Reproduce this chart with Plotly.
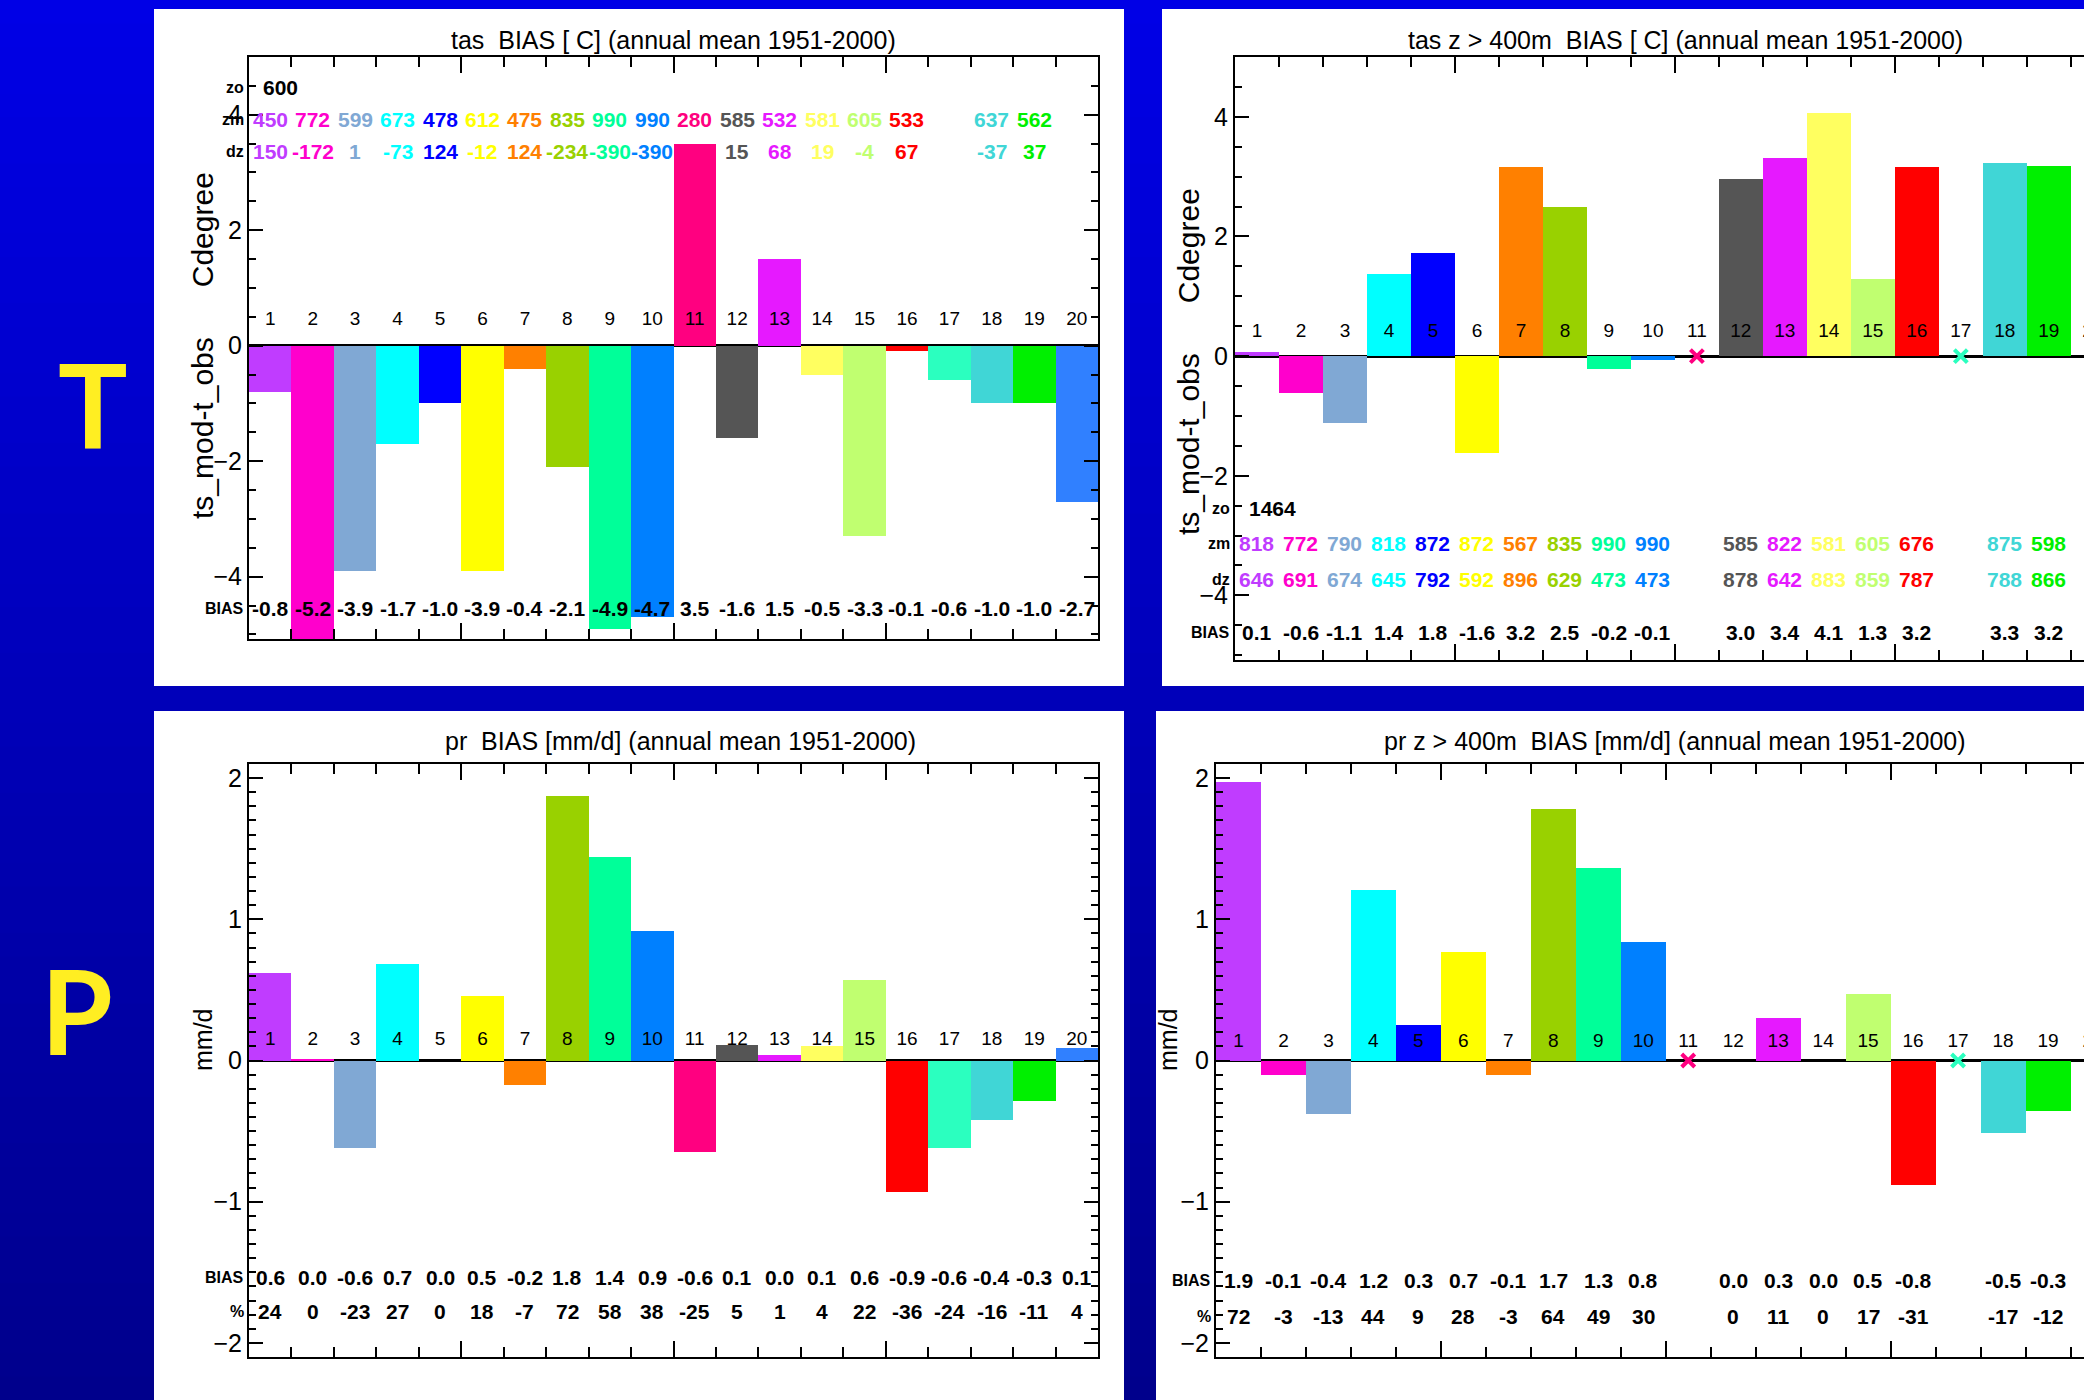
import plotly.graph_objects as go

W, H = 2084, 1400

# ---------------- data ----------------
models = list(range(1, 21))
model_colors = ["#c03cff", "#ff00cc", "#80a8d4", "#00ffff", "#0000ff",
                "#ffff00", "#ff8000", "#99d100", "#00ff99", "#0080ff",
                "#ff0080", "#555555", "#e619ff", "#ffff60", "#c0ff70",
                "#ff0000", "#2bffbf", "#40d6d6", "#00f000", "#3080ff"]

# tas bias (all grid points)
tas_bias = [-0.8, -5.2, -3.9, -1.7, -1.0, -3.9, -0.4, -2.1, -4.9, -4.7,
            3.5, -1.6, 1.5, -0.5, -3.3, -0.1, -0.6, -1.0, -1.0, -2.7]
tas_bias_lab = ["-0.8", "-5.2", "-3.9", "-1.7", "-1.0", "-3.9", "-0.4", "-2.1", "-4.9", "-4.7",
                "3.5", "-1.6", "1.5", "-0.5", "-3.3", "-0.1", "-0.6", "-1.0", "-1.0", "-2.7"]
tas_zo = 600
tas_zm = [450, 772, 599, 673, 478, 612, 475, 835, 990, 990,
          280, 585, 532, 581, 605, 533, None, 637, 562, None]
tas_dz = [150, -172, 1, -73, 124, -12, 124, -234, -390, -390,
          320, 15, 68, 19, -4, 67, None, -37, 37, None]

# tas bias z > 400m
tas4_bias = [0.07, -0.62, -1.11, 1.38, 1.73, -1.62, 3.16, 2.49, -0.22, -0.07,
             None, 2.96, 3.31, 4.07, 1.29, 3.16, None, 3.22, 3.18, None]
tas4_bias_lab = ["0.1", "-0.6", "-1.1", "1.4", "1.8", "-1.6", "3.2", "2.5", "-0.2", "-0.1",
                 None, "3.0", "3.4", "4.1", "1.3", "3.2", None, "3.3", "3.2", None]
tas4_zo = 1464
tas4_zm = [818, 772, 790, 818, 872, 872, 567, 835, 990, 990,
           None, 585, 822, 581, 605, 676, None, 875, 598, None]
tas4_dz = [646, 691, 674, 645, 792, 592, 896, 629, 473, 473,
           None, 878, 642, 883, 859, 787, None, 788, 866, None]

# pr bias (all grid points)
pr_bias = [0.62, 0.01, -0.62, 0.68, 0.0, 0.46, -0.17, 1.87, 1.44, 0.92,
           -0.65, 0.11, 0.04, 0.1, 0.57, -0.93, -0.62, -0.42, -0.29, 0.09]
pr_bias_lab = ["0.6", "0.0", "-0.6", "0.7", "0.0", "0.5", "-0.2", "1.8", "1.4", "0.9",
               "-0.6", "0.1", "0.0", "0.1", "0.6", "-0.9", "-0.6", "-0.4", "-0.3", "0.1"]
pr_pct = [24, 0, -23, 27, 0, 18, -7, 72, 58, 38,
          -25, 5, 1, 4, 22, -36, -24, -16, -11, 4]

# pr bias z > 400m
pr4_bias = [1.97, -0.1, -0.38, 1.21, 0.25, 0.77, -0.1, 1.78, 1.36, 0.84,
            None, 0.0, 0.3, 0.0, 0.47, -0.88, None, -0.51, -0.36, None]
pr4_bias_lab = ["1.9", "-0.1", "-0.4", "1.2", "0.3", "0.7", "-0.1", "1.7", "1.3", "0.8",
                None, "0.0", "0.3", "0.0", "0.5", "-0.8", None, "-0.5", "-0.3", None]
pr4_pct = [72, -3, -13, 44, 9, 28, -3, 64, 49, 30,
           None, 0, 11, 0, 17, -31, None, -17, -12, None]

NB = "\u00a0"
titles = ["tas" + NB * 2 + "BIAS [ C] (annual mean 1951-2000)",
          "tas z > 400m" + NB * 2 + "BIAS [ C] (annual mean 1951-2000)",
          "pr" + NB * 2 + "BIAS [mm/d] (annual mean 1951-2000)",
          "pr z > 400m" + NB * 2 + "BIAS [mm/d] (annual mean 1951-2000)"]
ytitles = ["ts_mod-t_obs" + NB * 6 + "Cdegree", "ts_mod-t_obs" + NB * 6 + "Cdegree", "mm/d", "mm/d"]
side_letters = ["T", "P"]

# ---------------- styling helpers ----------------
FONT = "Liberation Sans, Arial, sans-serif"
def px_x(x): return x / W
def px_y(y): return 1 - y / H

fig = go.Figure()
shapes = []
annotations = []

# background gradient
N = 60
c_top = (0, 0, 230)
c_bot = (0, 0, 140)
for i in range(N):
    t = i / (N - 1)
    col = tuple(int(round(c_top[k] + (c_bot[k] - c_top[k]) * t)) for k in range(3))
    shapes.append(dict(type="rect", xref="paper", yref="paper", x0=0, x1=1,
                       y0=1 - (i + 1) / N - 0.002, y1=1 - i / N,
                       fillcolor="rgb(%d,%d,%d)" % col, line_width=0, layer="below"))

# white panels (px boxes)
panel_boxes = [(154, 9, 1124, 686), (1162, 9, 2084, 686),
               (154, 711, 1124, 1400), (1156, 711, 2084, 1400)]
for (x0, y0, x1, y1) in panel_boxes:
    shapes.append(dict(type="rect", xref="paper", yref="paper",
                       x0=px_x(x0), x1=px_x(x1), y0=px_y(y1), y1=px_y(y0),
                       fillcolor="white", line_width=0, layer="below"))

# plot areas in px: (left, top, right, bottom), x range, y range
panels = [
    dict(box=(249, 57, 1098, 639), xr=[0.5, 20.5], yr=[-5.08, 5.0], dtick=2, mdt=0.5, mirror=True,
         title_xy=(673, 40), ytitle_xy=(203, 346), ysize=30, lab_y=0.44),
    dict(box=(1235, 57, 2084, 660), xr=[0.5, 19.8], yr=[-5.08, 5.0], dtick=2, mdt=0.5, mirror=False,
         title_xy=(1685, 40), ytitle_xy=(1188, 362), ysize=30, lab_y=0.40),
    dict(box=(249, 764, 1098, 1357), xr=[0.5, 20.5], yr=[-2.1, 2.1], dtick=1, mdt=0.1, mirror=True,
         title_xy=(680, 741), ytitle_xy=(203, 1040), ysize=25, lab_y=0.14),
    dict(box=(1216, 764, 2084, 1357), xr=[0.5, 19.8], yr=[-2.1, 2.1], dtick=1, mdt=0.1, mirror=False,
         title_xy=(1675, 741), ytitle_xy=(1168, 1040), ysize=25, lab_y=0.13),
]
bars = [tas_bias, tas4_bias, pr_bias, pr4_bias]

layout_axes = {}
for k, p in enumerate(panels):
    sfx = "" if k == 0 else str(k + 1)
    xa, ya = "x" + sfx, "y" + sfx
    l, t, r, b = p["box"]
    layout_axes["xaxis" + sfx] = dict(
        domain=[px_x(l), px_x(r)], range=p["xr"], anchor=ya,
        showline=True, linecolor="black", linewidth=2, mirror="ticks",
        ticks="inside", tick0=0.5, dtick=5, ticklen=16, tickwidth=2, tickcolor="black",
        minor=dict(ticks="inside", tick0=0.5, dtick=1, ticklen=10, tickwidth=1.5, tickcolor="black"),
        showticklabels=False, showgrid=False, zeroline=False, fixedrange=True)
    layout_axes["yaxis" + sfx] = dict(
        domain=[px_y(b), px_y(t)], range=p["yr"], anchor=xa,
        showline=True, linecolor="black", linewidth=2,
        mirror="ticks" if p["mirror"] else False,
        ticks="inside", tick0=0, dtick=p["dtick"], ticklen=14, tickwidth=2, tickcolor="black",
        minor=dict(ticks="inside", dtick=p["mdt"], ticklen=7, tickwidth=1.5, tickcolor="black"),
        tickfont=dict(family=FONT, size=25, color="black"),
        showgrid=False, zeroline=True, zerolinecolor="black", zerolinewidth=2.5,
        fixedrange=True)

    vals = bars[k]
    fig.add_trace(go.Bar(x=models, y=vals, width=1, marker=dict(color=model_colors, line_width=0),
                         xaxis=xa, yaxis=ya, showlegend=False, hoverinfo="skip"))
    # model index labels
    fig.add_trace(go.Scatter(x=models, y=[p["lab_y"]] * len(models), mode="text",
                             text=[str(m) for m in models], textposition="middle center",
                             textfont=dict(family=FONT, size=19, color="black"),
                             xaxis=xa, yaxis=ya, showlegend=False, hoverinfo="skip",
                             cliponaxis=True))
    # missing-data markers
    miss = [m for m, v in zip(models, vals) if v is None]
    if miss:
        fig.add_trace(go.Scatter(x=miss, y=[0] * len(miss), mode="markers",
                                 marker=dict(symbol="x-thin", size=13,
                                             line=dict(width=4, color=[model_colors[m - 1] for m in miss])),
                                 xaxis=xa, yaxis=ya, showlegend=False, hoverinfo="skip"))
    # titles
    tx, ty = p["title_xy"]
    annotations.append(dict(text=titles[k], xref="paper", yref="paper", x=px_x(tx), y=px_y(ty),
                            xanchor="center", yanchor="middle", showarrow=False,
                            font=dict(family=FONT, size=25, color="black")))
    yx, yy = p["ytitle_xy"]
    annotations.append(dict(text=ytitles[k], xref="paper", yref="paper", x=px_x(yx), y=px_y(yy),
                            xanchor="center", yanchor="middle", showarrow=False, textangle=-90,
                            font=dict(family=FONT, size=p["ysize"], color="black")))

def row(xa, ya, yv, label, texts, colors, size=21):
    annotations.append(dict(text=label, xref=xa + " domain", yref=ya, x=-0.004, y=yv,
                            xanchor="right", yanchor="middle", showarrow=False,
                            font=dict(family=FONT, size=16, color="black", weight="bold")))
    for m, tx_, c in zip(models, texts, colors):
        if tx_ is None:
            continue
        annotations.append(dict(text=str(tx_), xref=xa, yref=ya, x=m, y=yv,
                                xanchor="center", yanchor="middle", showarrow=False,
                                font=dict(family=FONT, size=size, color=c, weight="bold")))

def zo_row(xa, ya, yv, value):
    annotations.append(dict(text="zo", xref=xa + " domain", yref=ya, x=-0.004, y=yv,
                            xanchor="right", yanchor="middle", showarrow=False,
                            font=dict(family=FONT, size=16, color="black", weight="bold")))
    annotations.append(dict(text=str(value), xref=xa, yref=ya, x=0.78, y=yv,
                            xanchor="left", yanchor="middle", showarrow=False,
                            font=dict(family=FONT, size=21, color="black", weight="bold")))

black20 = ["black"] * 20
# top-left rows
zo_row("x", "y", 4.47, tas_zo)
row("x", "y", 3.92, "zm", tas_zm, model_colors)
row("x", "y", 3.36, "dz", tas_dz, model_colors)
row("x", "y", -4.56, "BIAS", tas_bias_lab, black20)
# top-right rows
zo_row("x2", "y2", -2.54, tas4_zo)
row("x2", "y2", -3.14, "zm", tas4_zm, model_colors)
row("x2", "y2", -3.74, "dz", tas4_dz, model_colors)
row("x2", "y2", -4.62, "BIAS", tas4_bias_lab, black20)
# bottom-left rows
row("x3", "y3", -1.54, "BIAS", pr_bias_lab, black20)
row("x3", "y3", -1.78, "%", pr_pct, black20)
# bottom-right rows
row("x4", "y4", -1.56, "BIAS", pr4_bias_lab, black20)
row("x4", "y4", -1.81, "%", pr4_pct, black20)

# side letters
for letter, (lx, ly) in zip(side_letters, [(93, 404), (77, 1010)]):
    annotations.append(dict(text=letter, xref="paper", yref="paper", x=px_x(lx), y=px_y(ly),
                            xanchor="center", yanchor="middle", showarrow=False,
                            font=dict(family="Lato, Noto Sans, sans-serif", size=116,
                                      color="#ffee22", weight="bold")))

fig.update_layout(width=W, height=H, autosize=False,
                  margin=dict(l=0, r=0, t=0, b=0, pad=0),
                  paper_bgcolor="#0000b0", plot_bgcolor="rgba(0,0,0,0)",
                  barmode="overlay", bargap=0, showlegend=False,
                  shapes=shapes, annotations=annotations, **layout_axes)

fig.write_html("out.html", config={"displayModeBar": False},
               post_script="document.body.style.margin='0';document.body.style.overflow='hidden';")
